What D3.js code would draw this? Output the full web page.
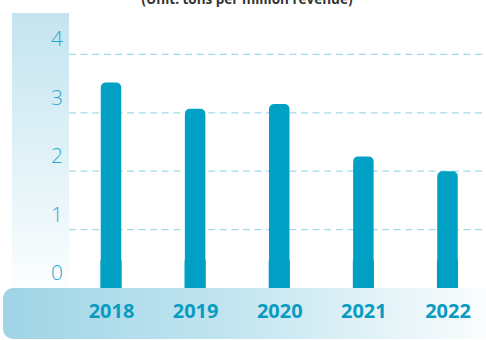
<!DOCTYPE html>
<html>
<head>
<meta charset="utf-8">
<script src="https://cdn.jsdelivr.net/npm/d3@7"></script>
<style>
  html, body { margin: 0; padding: 0; background: #fff; }
  svg { display: block; }
</style>
</head>
<body>
<svg id="chart" width="486" height="340"></svg>
<script>
// Emission intensity by year (tons per million revenue)
const years = ["2018", "2019", "2020", "2021", "2022"];
const intensity = [3.52, 3.07, 3.15, 2.25, 2.0];
const yTicks = [0, 1, 2, 3, 4];
const subtitle = "(Unit: tons per million revenue)";

const W = 486, H = 340;
const svg = d3.select("#chart");
const defs = svg.append("defs");

const colGrad = defs.append("linearGradient")
  .attr("id", "colGrad").attr("x1", 0).attr("y1", 0).attr("x2", 0).attr("y2", 1);
colGrad.append("stop").attr("offset", "0%").attr("stop-color", "#c3e4ef");
colGrad.append("stop").attr("offset", "100%").attr("stop-color", "#fcfeff");

const bandGrad = defs.append("linearGradient")
  .attr("id", "bandGrad").attr("x1", 0).attr("y1", 0).attr("x2", 1).attr("y2", 0);
bandGrad.append("stop").attr("offset", "0%").attr("stop-color", "#9fd4e6");
bandGrad.append("stop").attr("offset", "45%").attr("stop-color", "#c2e5f0");
bandGrad.append("stop").attr("offset", "100%").attr("stop-color", "#ffffff");

const y = d3.scaleLinear().domain([0, 4]).range([288, 54.4]);
const x = d3.scalePoint().domain(years).range([111, 447.5]);
const barW = 20.5;

// subtitle, running off the top edge
svg.append("text")
  .attr("x", 247).attr("y", 4)
  .attr("text-anchor", "middle")
  .attr("font-family", "'Open Sans', sans-serif")
  .attr("font-weight", 700)
  .attr("font-size", 13.5)
  .attr("fill", "#333333")
  .text(subtitle);

// value-axis panel
svg.append("rect")
  .attr("x", 12).attr("y", 13).attr("width", 57).attr("height", 275)
  .attr("fill", "url(#colGrad)");

// dashed gridlines
svg.append("g").selectAll("line")
  .data(yTicks.filter(d => d > 0))
  .join("line")
  .attr("x1", 69).attr("x2", W)
  .attr("y1", d => y(d)).attr("y2", d => y(d))
  .attr("stroke", "#a2dae8")
  .attr("stroke-width", 1.3)
  .attr("stroke-dasharray", "7,4.6");

// y axis labels, placed just above each gridline
const yAxis = svg.append("g")
  .attr("transform", "translate(63,0)")
  .call(d3.axisLeft(y).tickValues(yTicks).tickSize(0).tickPadding(0).tickFormat(d3.format("d")));
yAxis.select(".domain").remove();
yAxis.selectAll("text")
  .attr("dy", "-8.5")
  .attr("font-family", "'Open Sans', sans-serif")
  .attr("font-weight", 300)
  .attr("font-size", 21)
  .attr("fill", "#28a9d1");

// bars with rounded tops
const r = 5.5;
function barPath(cx, top, base) {
  const x0 = cx - barW / 2, x1 = cx + barW / 2;
  return `M${x0},${base} L${x0},${top + r} Q${x0},${top} ${x0 + r},${top} ` +
         `L${x1 - r},${top} Q${x1},${top} ${x1},${top + r} L${x1},${base} Z`;
}
const bars = svg.append("g");
bars.selectAll("path")
  .data(years)
  .join("path")
  .attr("d", (d, i) => barPath(x(d), y(intensity[i]), y(0)))
  .attr("fill", "#01a1c5");
bars.selectAll("rect")
  .data(years)
  .join("rect")
  .attr("x", d => x(d) - barW / 2 - 0.3)
  .attr("width", barW + 0.6)
  .attr("y", y(0) - 27.5)
  .attr("height", 27.5)
  .attr("fill", "#009fc3");

// category band along the bottom
svg.append("rect")
  .attr("x", 3).attr("y", 288).attr("width", W + 20).attr("height", 51)
  .attr("rx", 10).attr("ry", 10)
  .attr("fill", "url(#bandGrad)");

const xAxis = svg.append("g")
  .attr("transform", "translate(0,318)")
  .call(d3.axisBottom(x).tickSize(0).tickPadding(0));
xAxis.select(".domain").remove();
xAxis.selectAll("text")
  .attr("dy", 0)
  .attr("font-family", "'Open Sans', sans-serif")
  .attr("font-weight", 700)
  .attr("font-size", 20)
  .attr("fill", "#0a9bc2");
</script>
</body>
</html>
